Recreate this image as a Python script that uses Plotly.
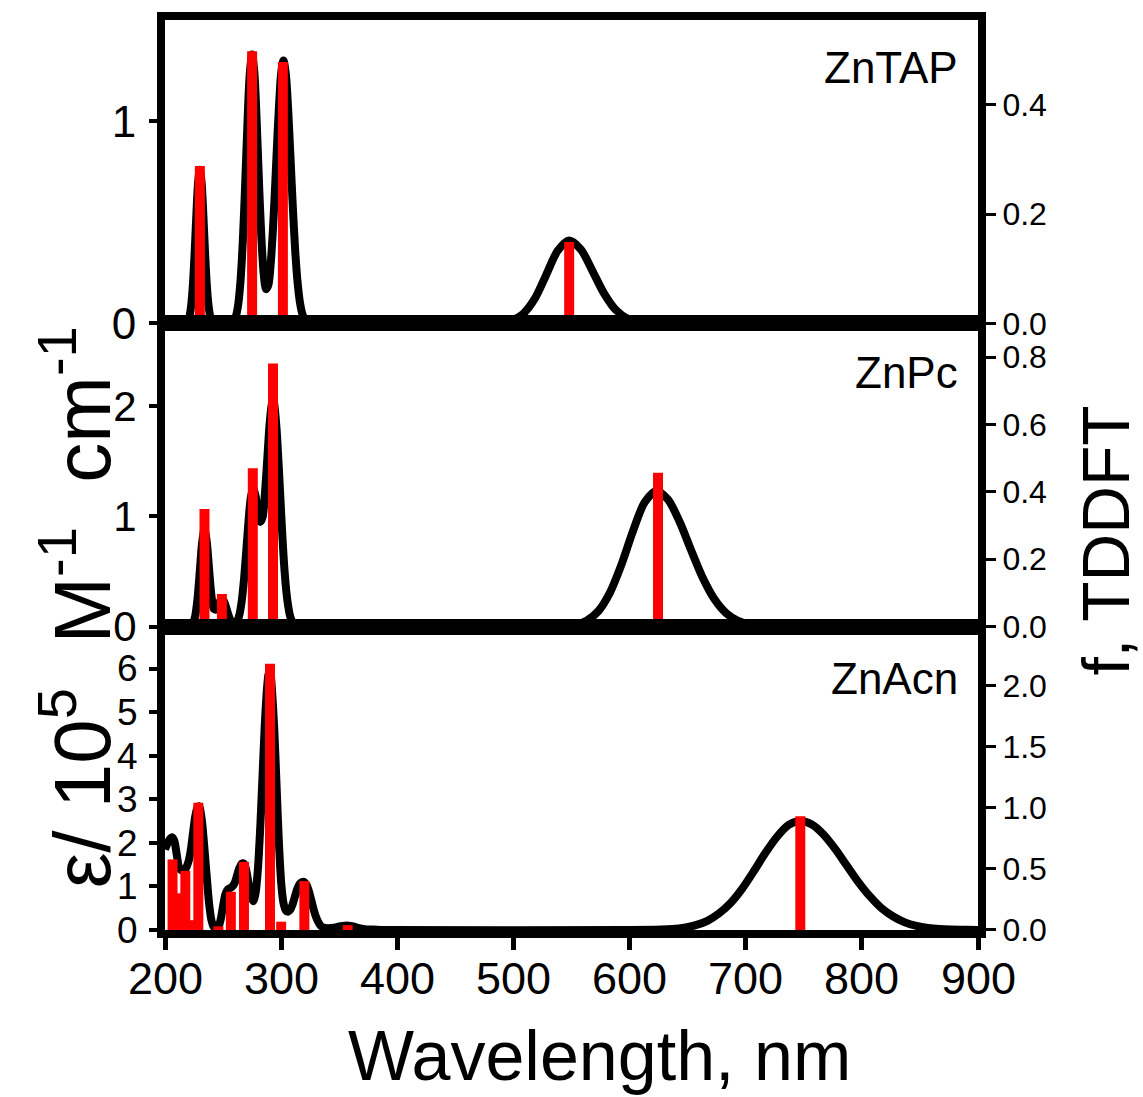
import plotly.graph_objects as go
from plotly.subplots import make_subplots

# ---------------- ZnTAP ----------------
tap_wl = [200, 215, 217, 219, 221, 222.5, 224, 225.5, 227, 228.5, 230, 231.5, 233, 234.5, 236,
          237.5, 239, 241, 243, 245, 255, 257, 259, 261, 263, 265, 267, 269, 271, 273, 275,
          277, 279, 281, 283, 285, 287, 289, 291, 293, 295, 297, 299, 300, 302, 304, 306, 308,
          310, 312, 314, 316, 318, 320, 322, 324, 330, 470, 478, 488, 498, 508, 518, 528, 538,
          548, 558, 568, 578, 588, 598, 608, 618, 630, 900]
tap_eps = [0, 0, 0.002, 0.007, 0.033, 0.087, 0.189, 0.348, 0.537, 0.697, 0.76, 0.697, 0.537, 0.348,
           0.189, 0.087, 0.033, 0.007, 0.002, 0, 0, 0.002, 0.012, 0.035, 0.092, 0.209, 0.407,
           0.683, 0.99, 1.235, 1.33, 1.235, 0.99, 0.687, 0.421, 0.243, 0.169, 0.189, 0.295, 0.47,
           0.701, 0.949, 1.161, 1.236, 1.30, 1.236, 1.062, 0.826, 0.581, 0.369, 0.212, 0.110,
           0.052, 0.022, 0.008, 0.002, 0, 0, 0.0, 0.003, 0.013, 0.045, 0.118, 0.237, 0.358, 0.41,
           0.366, 0.260, 0.148, 0.067, 0.024, 0.007, 0.002, 0, 0]
tap_stick_wl = [230, 275, 301.5, 548]
tap_stick_f = [0.288, 0.498, 0.478, 0.149]

# ---------------- ZnPc ----------------
pc_wl = [200, 220, 222, 224, 226, 228, 230, 232, 234, 236, 238, 240, 242, 244, 246, 248, 250,
         252, 254, 256, 258, 260, 262, 264, 266, 268, 270, 272, 274, 276, 278, 280, 282, 284,
         286, 288, 290, 292, 293, 294, 296, 298, 300, 302, 304, 306, 308, 310, 312, 314, 318,
         540, 553, 563, 573, 583, 593, 603, 613, 623, 633, 643, 653, 663, 673, 683, 693, 703,
         713, 723, 740, 900]
pc_eps = [0, 0, 0.006, 0.028, 0.096, 0.253, 0.506, 0.766, 0.88, 0.766, 0.516, 0.281, 0.162,
          0.155, 0.202, 0.243, 0.243, 0.196, 0.127, 0.067, 0.032, 0.025, 0.045, 0.105, 0.228,
          0.427, 0.691, 0.968, 1.177, 1.25, 1.183, 1.042, 0.95, 0.99, 1.20, 1.51, 1.83, 2.02,
          2.05, 2.02, 1.80, 1.44, 1.03, 0.65, 0.37, 0.19, 0.085, 0.035, 0.012, 0.004, 0,
          0, 0.017, 0.054, 0.140, 0.307, 0.563, 0.869, 1.128, 1.23, 1.154, 0.953, 0.693, 0.443,
          0.250, 0.124, 0.054, 0.021, 0.007, 0.002, 0, 0]
pc_stick_wl = [206, 210, 234, 249, 275.6, 293, 624.5]
pc_stick_f = [0.004, 0.004, 0.349, 0.097, 0.47, 0.781, 0.457]

# ---------------- ZnAcn ----------------
acn_wl = [200, 202, 204, 206, 208, 210, 212, 214, 216, 218, 220, 222, 224, 226, 228, 229, 230,
          232, 234, 236, 238, 240, 242, 244, 246, 248, 250, 252, 254, 256, 258, 260, 262, 264,
          266, 268, 270, 272, 274, 276, 278, 280, 282, 284, 286, 288, 289, 290, 291, 292, 294,
          296, 298, 300, 302, 304, 306, 308, 310, 312, 314, 316, 318, 320, 322, 324, 326, 328,
          330, 332, 334, 336, 340, 345, 350, 355, 358, 362, 366, 372, 380, 390, 600, 627, 637,
          647, 657, 667, 677, 687, 697, 707, 717, 727, 737, 747, 757, 767, 777, 787, 797, 807,
          817, 827, 837, 847, 857, 867, 877, 890, 900]
acn_eps = [1.85, 1.98, 2.08, 2.13, 2.05, 1.75, 1.45, 1.37, 1.37, 1.42, 1.55, 1.80, 2.20, 2.60,
           2.82, 2.84, 2.80, 2.45, 1.85, 1.20, 0.60, 0.22, 0.07, 0.04, 0.07, 0.25, 0.55, 0.82,
           0.93, 0.96, 1.0, 1.08, 1.25, 1.42, 1.52, 1.52, 1.36, 1.06, 0.78, 0.66, 0.85, 1.40,
           2.35, 3.55, 4.75, 5.60, 5.85, 5.95, 5.85, 5.55, 4.65, 3.35, 2.05, 1.10, 0.62, 0.45,
           0.42, 0.47, 0.60, 0.78, 0.95, 1.06, 1.10, 1.10, 1.03, 0.88, 0.68, 0.47, 0.30, 0.18,
           0.10, 0.06, 0.04, 0.05, 0.08, 0.10, 0.10, 0.08, 0.05, 0.02, 0.01, 0.0, 0.0, 0.01,
           0.023, 0.053, 0.11, 0.21, 0.38, 0.62, 0.95, 1.35, 1.77, 2.14, 2.41, 2.50, 2.42, 2.19,
           1.86, 1.48, 1.10, 0.77, 0.50, 0.31, 0.175, 0.093, 0.047, 0.022, 0.01, 0.004, 0.002]
acn_stick_wl = [206.5, 212, 217.5, 222.7, 228.7, 246, 256.7, 268, 290.4, 300, 320, 357.3, 747]
acn_stick_f = [0.577, 0.30, 0.484, 0.08, 1.04, 0.03, 0.313, 0.557, 2.177, 0.068, 0.40, 0.04, 0.93]

panel_names = ["ZnTAP", "ZnPc", "ZnAcn"]
x_ticks = [200, 300, 400, 500, 600, 700, 800, 900]

panels = [
    dict(wl=tap_wl, eps=tap_eps, swl=tap_stick_wl, sf=tap_stick_f,
         lrange=[0, 1.5], ltick=[0, 1], rrange=[0, 0.555], rtick=[0, 0.2, 0.4],
         rtext=["0.0", "0.2", "0.4"], lfont=44),
    dict(wl=pc_wl, eps=pc_eps, swl=pc_stick_wl, sf=pc_stick_f,
         lrange=[0, 2.75], ltick=[0, 1, 2], rrange=[0, 0.9], rtick=[0, 0.2, 0.4, 0.6, 0.8],
         rtext=["0.0", "0.2", "0.4", "0.6", "0.8"], lfont=42),
    dict(wl=acn_wl, eps=acn_eps, swl=acn_stick_wl, sf=acn_stick_f,
         lrange=[0, 6.96], ltick=[0, 1, 2, 3, 4, 5, 6], rrange=[0, 2.48],
         rtick=[0, 0.5, 1.0, 1.5, 2.0], rtext=["0.0", "0.5", "1.0", "1.5", "2.0"], lfont=37),
]

FONT = "Liberation Sans, Arial, sans-serif"

fig = make_subplots(rows=3, cols=1, shared_xaxes=True, vertical_spacing=0,
                    specs=[[{"secondary_y": True}]] * 3)

for i, p in enumerate(panels, start=1):
    # broadened spectrum (left axis)
    fig.add_trace(go.Scatter(x=p["wl"], y=p["eps"], mode="lines",
                             line=dict(color="black", width=8, shape="spline", smoothing=0.8),
                             showlegend=False, hoverinfo="skip"),
                  row=i, col=1, secondary_y=False)
    # oscillator strengths (right axis)
    fig.add_trace(go.Bar(x=p["swl"], y=p["sf"], width=8.6,
                         marker=dict(color="#ff0000", line=dict(width=0)),
                         showlegend=False, hoverinfo="skip"),
                  row=i, col=1, secondary_y=True)

    fig.update_yaxes(row=i, col=1, secondary_y=False, range=p["lrange"], tickvals=p["ltick"],
                     showgrid=False, zeroline=False, showline=True, linecolor="black", linewidth=8,
                     ticks="outside", ticklen=8, tickwidth=4, tickcolor="black",
                     tickfont=dict(family=FONT, size=p["lfont"], color="black"),
                     ticklabelstandoff=4)
    fig.update_yaxes(row=i, col=1, secondary_y=True, range=p["rrange"], tickvals=p["rtick"],
                     ticktext=p["rtext"], showgrid=False, zeroline=False, showline=True,
                     linecolor="black", linewidth=8, ticks="outside", ticklen=10, tickwidth=3,
                     tickcolor="black", tickfont=dict(family=FONT, size=32, color="black"),
                     ticklabelstandoff=0)

for i in range(1, 4):
    bottom = (i == 3)
    fig.update_xaxes(row=i, col=1, domain=[0, 1], range=[200, 900], tickvals=x_ticks,
                     showticklabels=False, ticks="outside" if bottom else "",
                     ticklen=12, tickwidth=5, tickcolor="black",
                     showgrid=False, zeroline=False, showline=True, linecolor="black",
                     linewidth=8, mirror=True)

annotations = []
# wavelength tick labels under the bottom panel
for v in x_ticks:
    annotations.append(dict(text=str(v), x=v, xref="x3", y=-0.0535, yref="paper",
                            xanchor="center", yanchor="middle", showarrow=False,
                            font=dict(family=FONT, size=45, color="black")))

label_y = [0.948, 0.613, 0.276]
for name, yy in zip(panel_names, label_y):
    annotations.append(dict(text=name, x=0.978, y=yy, xref="paper", yref="paper",
                            xanchor="right", yanchor="middle", showarrow=False,
                            font=dict(family=FONT, size=44, color="black")))

annotations.append(dict(text="Wavelength, nm", x=0.535, y=-0.139, xref="paper", yref="paper",
                        xanchor="center", yanchor="middle", showarrow=False,
                        font=dict(family=FONT, size=70, color="black")))
annotations.append(dict(text="ε/ 10<sup>5</sup>&nbsp; M<sup>-1</sup>&nbsp; cm<sup>-1</sup>",
                        x=-0.109, y=0.355, xref="paper", yref="paper",
                        xanchor="center", yanchor="middle", textangle=-90, showarrow=False,
                        font=dict(family=FONT, size=80, color="black")))
annotations.append(dict(text="f, TDDFT", x=1.157, y=0.4276, xref="paper", yref="paper",
                        xanchor="center", yanchor="middle", textangle=-90, showarrow=False,
                        font=dict(family=FONT, size=66, color="black")))

fig.update_layout(width=1143, height=1097, margin=dict(l=165, r=165, t=18, b=167),
                  plot_bgcolor="white", paper_bgcolor="white", barmode="overlay",
                  annotations=annotations, showlegend=False)

fig.write_html("out.html")
